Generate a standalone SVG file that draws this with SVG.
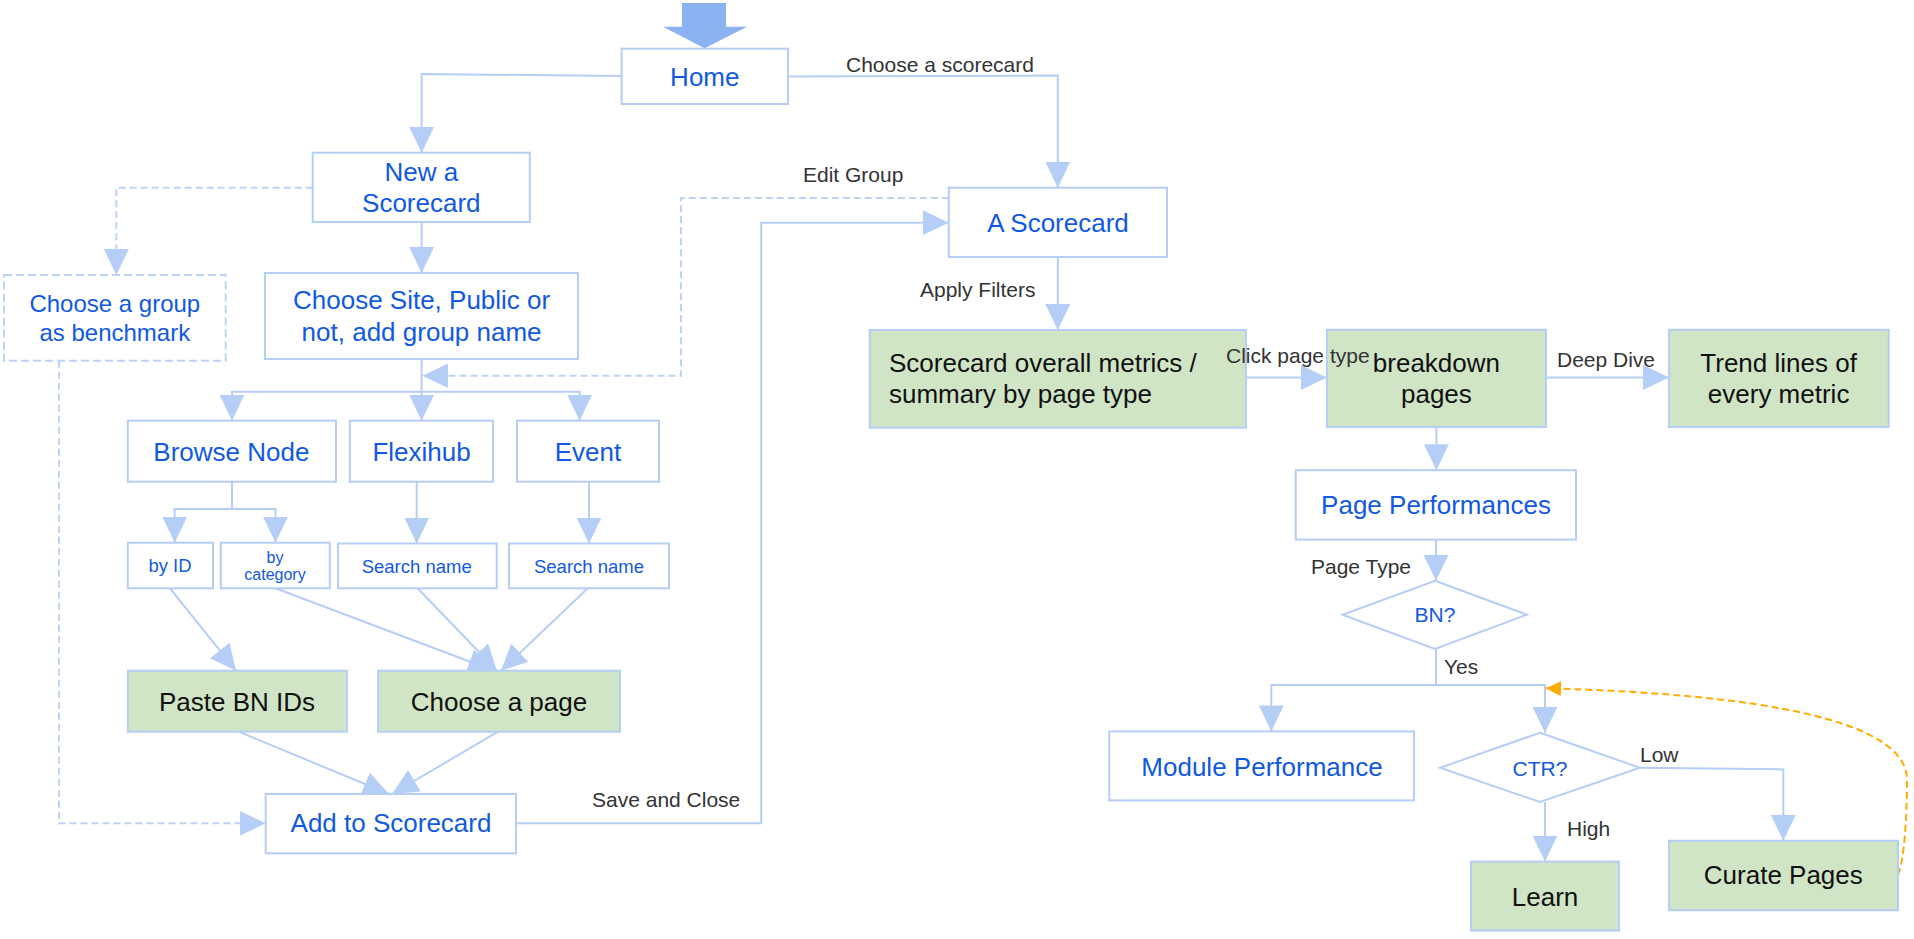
<svg xmlns="http://www.w3.org/2000/svg" width="1914" height="939" viewBox="0 0 1914 939">
<style>
  .box{fill:#ffffff;stroke:#b5cef5;stroke-width:2}
  .dbox{fill:#ffffff;stroke:#bcd3f5;stroke-width:2;stroke-dasharray:8 4}
  .gbox{fill:#d0e4c6;stroke:#b5cef5;stroke-width:2}
  .t{font-family:"Liberation Sans",Arial,sans-serif;font-size:26px;fill:#1159e0;text-anchor:middle}
  .tk{font-family:"Liberation Sans",Arial,sans-serif;font-size:26px;fill:#111111;text-anchor:middle}
  .ts{font-family:"Liberation Sans",Arial,sans-serif;font-size:18.5px;fill:#1159e0;text-anchor:middle}
  .lb{font-family:"Liberation Sans",Arial,sans-serif;font-size:21px;fill:#333333}
  .ln{fill:none;stroke:#b5cef5;stroke-width:2}
  .la{fill:none;stroke:#b5cef5;stroke-width:2;marker-end:url(#ah)}
  .da{fill:none;stroke:#bcd3f5;stroke-width:2;stroke-dasharray:7 4;marker-end:url(#ah)}
  .oa{fill:none;stroke:#ffab00;stroke-width:2;stroke-dasharray:7 4;marker-end:url(#oh)}
</style>
<defs>
  <marker id="ah" markerUnits="userSpaceOnUse" markerWidth="26" markerHeight="26" refX="26" refY="13" orient="auto" viewBox="0 0 26 26">
    <path d="M0,0.5 L26,13 L0,25.5 z" fill="#b5cef5"/>
  </marker>
  <marker id="oh" markerUnits="userSpaceOnUse" markerWidth="15" markerHeight="15" refX="15" refY="7.5" orient="auto" viewBox="0 0 15 15">
    <path d="M0,0 L15,7.5 L0,15 z" fill="#ffab00"/>
  </marker>
</defs>
<rect x="0" y="0" width="1914" height="939" fill="#ffffff"/>

<g id="connectors">
  <polyline class="la" points="621.6,76 421.6,74 421.6,152.7"/>
  <polyline class="la" points="788,76.5 1057.8,75.5 1057.8,187.7"/>
  <line class="la" x1="421.6" y1="222" x2="421.6" y2="273"/>
  <polyline class="da" points="312.7,187.7 116.3,187.7 116.3,275"/>
  <line class="ln" x1="421.6" y1="359" x2="421.6" y2="391.7"/>
  <line class="ln" x1="231" y1="391.7" x2="580.6" y2="391.7"/>
  <line class="la" x1="232" y1="391.7" x2="232" y2="420.7"/>
  <line class="la" x1="421.6" y1="391.7" x2="421.6" y2="420.7"/>
  <line class="la" x1="579.6" y1="391.7" x2="579.6" y2="420.7"/>
  <polyline class="da" points="948.8,198 681,198 681,375.7 422.4,375.7"/>
  <line class="ln" x1="232" y1="481.7" x2="232" y2="509"/>
  <line class="ln" x1="173.7" y1="509" x2="276.5" y2="509"/>
  <line class="la" x1="174.7" y1="509" x2="174.7" y2="542.7"/>
  <line class="la" x1="275.5" y1="509" x2="275.5" y2="542.7"/>
  <line class="la" x1="416.7" y1="481.7" x2="416.7" y2="543.5"/>
  <line class="la" x1="589" y1="481.7" x2="589" y2="543.5"/>
  <line class="la" x1="170" y1="588.3" x2="236" y2="670.7"/>
  <line class="la" x1="275.5" y1="588.3" x2="494" y2="670.7"/>
  <line class="la" x1="417.6" y1="588.3" x2="497" y2="670.7"/>
  <line class="la" x1="587.8" y1="588.3" x2="501" y2="670.7"/>
  <line class="la" x1="238.8" y1="731.7" x2="389" y2="794"/>
  <line class="la" x1="498" y1="731.7" x2="392" y2="794"/>
  <polyline class="da" points="59,360.7 59,823.3 265.7,823.3"/>
  <polyline class="la" points="516,823.3 761.2,823.3 761.2,222.7 948.8,222.7"/>
  <line class="la" x1="1057.8" y1="257" x2="1057.8" y2="330"/>
  <line class="la" x1="1246" y1="377.6" x2="1326.9" y2="377.6"/>
  <line class="la" x1="1546" y1="377.6" x2="1669" y2="377.6"/>
  <line class="la" x1="1436.4" y1="427" x2="1436.4" y2="470.2"/>
  <line class="la" x1="1436" y1="539.6" x2="1436" y2="580.8"/>
  <line class="ln" x1="1436" y1="649" x2="1436" y2="684.9"/>
  <line class="ln" x1="1270.3" y1="684.9" x2="1546" y2="684.9"/>
  <line class="la" x1="1271.3" y1="684.9" x2="1271.3" y2="731.4"/>
  <line class="la" x1="1545" y1="684.9" x2="1545" y2="732.7"/>
  <line class="la" x1="1545" y1="802" x2="1545" y2="861.6"/>
  <polyline class="la" points="1640,767.8 1783.3,769.4 1783.3,840.8"/>
  <path class="oa" d="M1898,875 C1904,860 1907,820 1907,780 C1907,720 1760,694 1546,688.3"/>
</g>

<g id="start">
  <polygon points="682,3 726,3 726,26.7 747,26.7 704.5,48.3 663,26.7 682,26.7" fill="#8ab1f2"/>
</g>
<g id="home">
  <rect class="box" x="621.6" y="48.7" width="166.4" height="55.3"/>
  <text class="t" x="704.8" y="86">Home</text>
</g>
<g id="new-scorecard">
  <rect class="box" x="312.7" y="152.7" width="217.1" height="69.3"/>
  <text class="t" x="421.3" y="181">New a</text>
  <text class="t" x="421.3" y="212.3">Scorecard</text>
</g>
<g id="choose-group">
  <rect class="dbox" x="4" y="275" width="221.7" height="85.7"/>
  <text class="t" style="font-size:24px" x="114.8" y="312.3">Choose a group</text>
  <text class="t" style="font-size:24px" x="114.8" y="340.7">as benchmark</text>
</g>
<g id="choose-site">
  <rect class="box" x="265" y="273" width="313" height="86"/>
  <text class="t" x="421.6" y="309.3">Choose Site, Public or</text>
  <text class="t" x="421.6" y="340.7">not, add group name</text>
</g>
<g id="browse-node">
  <rect class="box" x="127.8" y="420.7" width="208.2" height="61"/>
  <text class="t" x="231.4" y="461">Browse Node</text>
</g>
<g id="flexihub">
  <rect class="box" x="349.8" y="420.7" width="143.2" height="61"/>
  <text class="t" x="421.6" y="461">Flexihub</text>
</g>
<g id="event">
  <rect class="box" x="517" y="420.7" width="142" height="61"/>
  <text class="t" x="588" y="461">Event</text>
</g>
<g id="by-id">
  <rect class="box" x="127.8" y="542.7" width="85.2" height="45.6"/>
  <text class="ts" x="170" y="572">by ID</text>
</g>
<g id="by-category">
  <rect class="box" x="220.8" y="542.7" width="109" height="45.6"/>
  <text class="ts" style="font-size:16px" x="275" y="562.5">by</text>
  <text class="ts" style="font-size:16px" x="275" y="580">category</text>
</g>
<g id="search-flexihub">
  <rect class="box" x="338" y="543.5" width="158.7" height="44.8"/>
  <text class="ts" x="416.7" y="573">Search name</text>
</g>
<g id="search-event">
  <rect class="box" x="509" y="543.5" width="160" height="44.8"/>
  <text class="ts" x="589" y="573">Search name</text>
</g>
<g id="paste-bn">
  <rect class="gbox" x="127.8" y="670.7" width="219.2" height="61"/>
  <text class="tk" x="237" y="710.7">Paste BN IDs</text>
</g>
<g id="choose-page">
  <rect class="gbox" x="378" y="670.7" width="242" height="61"/>
  <text class="tk" x="499" y="710.7">Choose a page</text>
</g>
<g id="add-to-scorecard">
  <rect class="box" x="265.7" y="794" width="250.3" height="59.3"/>
  <text class="t" x="391" y="832">Add to Scorecard</text>
</g>
<g id="a-scorecard">
  <rect class="box" x="948.8" y="187.7" width="218.2" height="69.3"/>
  <text class="t" x="1058" y="231.7">A Scorecard</text>
</g>
<g id="overall-metrics">
  <rect class="gbox" x="869.8" y="330" width="376.2" height="97.7"/>
  <text class="tk" style="text-anchor:start" x="889" y="371.7">Scorecard overall metrics /</text>
  <text class="tk" style="text-anchor:start" x="889" y="402.5">summary by page type</text>
</g>
<g id="breakdown">
  <rect class="gbox" x="1326.9" y="329.8" width="219.1" height="97.2"/>
  <text class="tk" x="1436.4" y="372">breakdown</text>
  <text class="tk" x="1436.4" y="402.5">pages</text>
</g>
<g id="trend-lines">
  <rect class="gbox" x="1669" y="329.8" width="219.7" height="97.2"/>
  <text class="tk" x="1778.6" y="372">Trend lines of</text>
  <text class="tk" x="1778.6" y="402.5">every metric</text>
</g>
<g id="page-performances">
  <rect class="box" x="1295.7" y="470.2" width="280.3" height="69.4"/>
  <text class="t" x="1436" y="514.3">Page Performances</text>
</g>
<g id="bn-decision">
  <polygon class="box" points="1435,580.8 1526.8,614.7 1435,649 1342.5,614.7"/>
  <text class="t" style="font-size:21px" x="1435" y="622">BN?</text>
</g>
<g id="module-performance">
  <rect class="box" x="1109.3" y="731.4" width="304.7" height="69"/>
  <text class="t" x="1262" y="775.5">Module Performance</text>
</g>
<g id="ctr-decision">
  <polygon class="box" points="1540,732.7 1640,767.8 1540,802 1440,767.8"/>
  <text class="t" style="font-size:21px" x="1540" y="776">CTR?</text>
</g>
<g id="learn">
  <rect class="gbox" x="1471" y="861.6" width="148" height="69"/>
  <text class="tk" x="1545" y="906">Learn</text>
</g>
<g id="curate-pages">
  <rect class="gbox" x="1669" y="840.8" width="229" height="69.4"/>
  <text class="tk" x="1783.3" y="883.7">Curate Pages</text>
</g>

<g id="connector-labels">
  <text class="lb" x="846" y="71.7">Choose a scorecard</text>
  <text class="lb" x="803" y="181.7">Edit Group</text>
  <text class="lb" x="920" y="296.7">Apply Filters</text>
  <text class="lb" x="592" y="806.7">Save and Close</text>
  <text class="lb" x="1226" y="363">Click page type</text>
  <text class="lb" x="1557" y="367">Deep Dive</text>
  <text class="lb" x="1311" y="573.5">Page Type</text>
  <text class="lb" x="1444" y="673.5">Yes</text>
  <text class="lb" x="1640" y="762.4">Low</text>
  <text class="lb" x="1567" y="835.5">High</text>
</g>
</svg>
